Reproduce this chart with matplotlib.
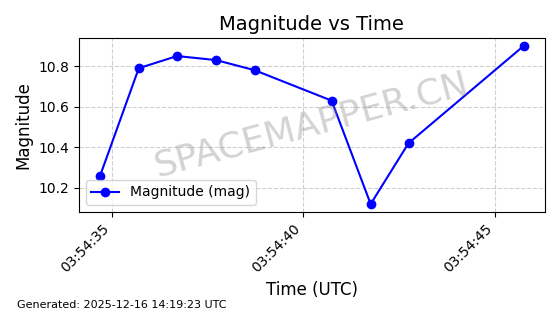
import matplotlib
matplotlib.use("Agg")
from matplotlib import pyplot as plt
import matplotlib.dates as mdates
from datetime import datetime

# observation times (UTC) and magnitudes
times = ["03:54:34.69", "03:54:35.70", "03:54:36.70", "03:54:37.72", "03:54:38.73",
         "03:54:40.74", "03:54:41.76", "03:54:42.75", "03:54:45.76"]
magnitudes = [10.26, 10.79, 10.85, 10.83, 10.78, 10.63, 10.12, 10.42, 10.90]

t = [datetime.strptime("2025-12-16 " + s, "%Y-%m-%d %H:%M:%S.%f") for s in times]

fig, ax = plt.subplots(figsize=(5.6, 3.14), dpi=100)
ax.plot(t, magnitudes, marker="o", color="blue", label="Magnitude (mag)")

ax.set_title("Magnitude vs Time", fontsize=14)
ax.set_xlabel("Time (UTC)", fontsize=12)
ax.set_ylabel("Magnitude", fontsize=12)
ax.xaxis.set_major_formatter(mdates.DateFormatter("%H:%M:%S"))
ax.xaxis.set_major_locator(mdates.SecondLocator(bysecond=range(0, 60, 5)))
plt.setp(ax.get_xticklabels(), rotation=45, ha="right")
ax.grid(True, linestyle="--", alpha=0.6)
ax.legend(loc="lower left")

# watermark
ax.text(0.5, 0.5, "SPACEMAPPER.CN", transform=ax.transAxes, fontsize=26,
        color="gray", alpha=0.35, rotation=15, ha="center", va="center")

fig.text(0.03, 0.02, "Generated: 2025-12-16 14:19:23 UTC", fontsize=8)

plt.subplots_adjust(left=0.141, right=0.973, top=0.879, bottom=0.325)
plt.savefig("out.png", dpi=100)
